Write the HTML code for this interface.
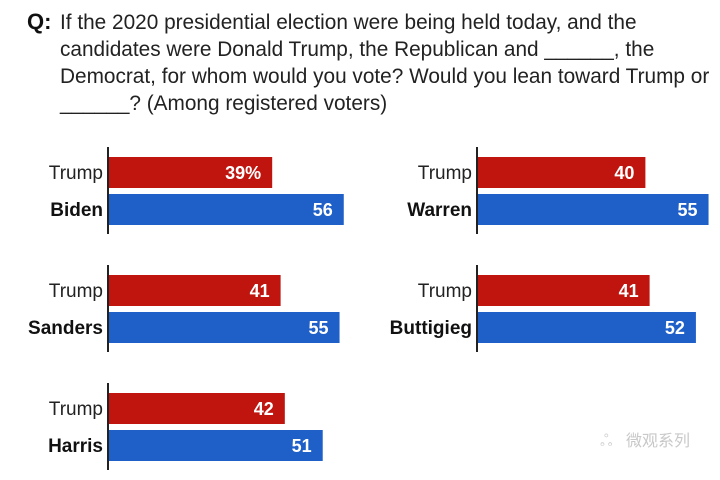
<!DOCTYPE html>
<html><head><meta charset="utf-8"><style>
body{margin:0;background:#fff;width:720px;height:475px;overflow:hidden;font-family:"Liberation Sans",Arial,sans-serif}
</style></head><body>
<svg id="c" width="720" height="475" xmlns="http://www.w3.org/2000/svg">
<g font-size="20.8" fill="#222">
<text x="27" y="29" font-weight="bold" font-size="22" fill="#111">Q:</text>
<text x="60" y="29">If the 2020 presidential election were being held today, and the</text>
<text x="60" y="56">candidates were Donald Trump, the Republican and ______, the</text>
<text x="60" y="83">Democrat, for whom would you vote? Would you lean toward Trump or</text>
<text x="60" y="110">______? (Among registered voters)</text>
</g>
<g id="panels"></g>
<text x="626" y="446" font-size="16" fill="#c8c8c8" font-family="'Noto Sans CJK SC',sans-serif">微观系列</text>
<text x="600" y="446" font-size="16" fill="#d0d0d0">ஃ</text>
</svg>
<script>
const candidates=["Biden","Warren","Sanders","Buttigieg","Harris"];
const trumpValues=[39,40,41,41,42];
const demValues=[56,55,55,52,51];
const ns="http://www.w3.org/2000/svg";
const g=document.getElementById("panels");
const scale=4.21;
function mk(t,a){const e=document.createElementNS(ns,t);for(const k in a)e.setAttribute(k,a[k]);g.appendChild(e);return e;}
candidates.forEach((name,i)=>{
  const ax=i%2===0?108:477;
  const top=157+Math.floor(i/2)*118;
  const x=v=>ax+v*scale;
  const ln=mk("line",{x1:ax,x2:ax,y1:top-10,y2:top+77,stroke:"#222","stroke-width":2});
  
  
  const r1=mk("rect",{x:ax+1,y:top,width:x(trumpValues[i])-ax-1,height:31,fill:"#c0140e"});
  
  
  const r2=mk("rect",{x:ax+1,y:top+37,width:x(demValues[i])-ax-1,height:31,fill:"#1e5fc8"});
  
  
  const l1=mk("text",{x:ax-5,y:top+22,"text-anchor":"end","font-size":19,fill:"#222"});l1.textContent="Trump";
  
  
  const l2=mk("text",{x:ax-5,y:top+59,"text-anchor":"end","font-size":19,"font-weight":"bold",fill:"#111"});l2.textContent=name;
  
  
  const v1=mk("text",{x:x(trumpValues[i])-11,y:top+22,"text-anchor":"end","font-size":18,"font-weight":"bold",fill:"#fff"});v1.textContent=trumpValues[i]+(i===0?"%":"");
  
  
  const v2=mk("text",{x:x(demValues[i])-11,y:top+59,"text-anchor":"end","font-size":18,"font-weight":"bold",fill:"#fff"});v2.textContent=demValues[i];
  
  
});
</script>
</body></html>
